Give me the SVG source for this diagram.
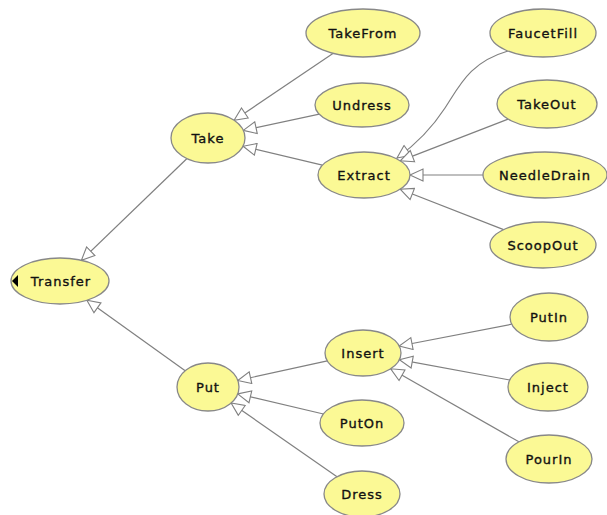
<svg xmlns="http://www.w3.org/2000/svg" width="607" height="515" viewBox="0 0 607 515">
<style>
.node ellipse{fill:#fbf995;stroke:#888;stroke-width:1.3}
.node text{font-family:"DejaVu Sans",sans-serif;font-size:13px;letter-spacing:1px;fill:#111;stroke:#111;stroke-width:0.35;text-anchor:middle;dominant-baseline:central}
#edges path{fill:none;stroke:#808080;stroke-width:1.2;marker-end:url(#tri)}
</style>
<defs>
<marker id="tri" markerUnits="userSpaceOnUse" markerWidth="16" markerHeight="14" refX="13" refY="6" orient="auto" viewBox="-1 -1 16 14">
<path d="M0,0 L13,6 L0,12 Z" fill="#fff" stroke="#808080" stroke-width="1.1"/>
</marker>
</defs>
<rect width="607" height="515" fill="#fff"/>
<g id="edges">
<path d="M187,158.5 L81.4,260.3"/>
<path d="M185.2,370.7 L86.9,300.2"/>
<path d="M332.9,53.4 L234.1,120.3"/>
<path d="M319.3,114.2 L243.3,130.4"/>
<path d="M322.4,165.1 L243.1,146.3"/>
<path d="M508,51 C470,62 460,85 445,108 S415,145 397,158"/>
<path d="M508.1,119.1 L400.3,160.9"/>
<path d="M483,175 L410,175"/>
<path d="M503.6,229.6 L400.2,189.2"/>
<path d="M327.3,360.8 L237.8,380.5"/>
<path d="M323.4,414 L237.7,393.9"/>
<path d="M337,476.7 L231.1,403"/>
<path d="M511.8,324.2 L399.2,346"/>
<path d="M509.7,380 L399.4,359.7"/>
<path d="M518.9,441.8 L390.7,368.8"/>
</g>
<g id="Transfer" class="node"><ellipse cx="60" cy="281" rx="49" ry="23"/><path d="M12,281 L18,275 L18,287 Z" fill="#000"/><text x="61" y="281">Transfer</text></g>
<g id="Take" class="node"><ellipse cx="208" cy="138" rx="37" ry="25"/><text x="208" y="138">Take</text></g>
<g id="Put" class="node"><ellipse cx="208" cy="387" rx="31" ry="24"/><text x="208" y="387">Put</text></g>
<g id="TakeFrom" class="node"><ellipse cx="363" cy="33" rx="57" ry="24"/><text x="363" y="33">TakeFrom</text></g>
<g id="Undress" class="node"><ellipse cx="362" cy="105" rx="47" ry="22"/><text x="362" y="105">Undress</text></g>
<g id="Extract" class="node"><ellipse cx="364" cy="175" rx="46" ry="23"/><text x="364" y="175">Extract</text></g>
<g id="FaucetFill" class="node"><ellipse cx="543" cy="33" rx="53" ry="24"/><text x="543" y="33">FaucetFill</text></g>
<g id="TakeOut" class="node"><ellipse cx="547" cy="104" rx="50" ry="24"/><text x="547" y="104">TakeOut</text></g>
<g id="NeedleDrain" class="node"><ellipse cx="545" cy="175" rx="62" ry="23"/><text x="545" y="175">NeedleDrain</text></g>
<g id="ScoopOut" class="node"><ellipse cx="543" cy="245" rx="53" ry="23"/><text x="543" y="245">ScoopOut</text></g>
<g id="Insert" class="node"><ellipse cx="363" cy="353" rx="38" ry="23"/><text x="363" y="353">Insert</text></g>
<g id="PutOn" class="node"><ellipse cx="362" cy="423" rx="42" ry="23"/><text x="362" y="423">PutOn</text></g>
<g id="Dress" class="node"><ellipse cx="362" cy="494" rx="38" ry="23"/><text x="362" y="494">Dress</text></g>
<g id="PutIn" class="node"><ellipse cx="549" cy="317" rx="39" ry="24"/><text x="549" y="317">PutIn</text></g>
<g id="Inject" class="node"><ellipse cx="548" cy="387" rx="40" ry="24"/><text x="548" y="387">Inject</text></g>
<g id="PourIn" class="node"><ellipse cx="549" cy="459" rx="43" ry="24"/><text x="549" y="459">PourIn</text></g>
</svg>
